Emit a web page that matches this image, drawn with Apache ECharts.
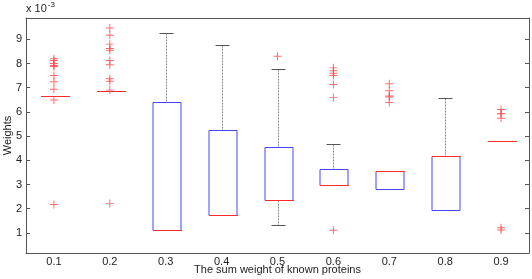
<!DOCTYPE html>
<html>
<head>
<meta charset="utf-8">
<script src="https://cdn.jsdelivr.net/npm/echarts@6/dist/echarts.min.js"></script>
<style>
  html, body { margin: 0; padding: 0; background: #fff; }
  #chart { width: 532px; height: 279px; }
</style>
</head>
<body>
<div id="chart"></div>
<script>
// box statistics, values in units of 1e-3
const categories = ["0.1", "0.2", "0.3", "0.4", "0.5", "0.6", "0.7", "0.8", "0.9"];
const yTicks = [1, 2, 3, 4, 5, 6, 7, 8, 9];
const lowerWhisker = [6.65, 6.87, 1.12, 1.72, 1.32, 2.96, 2.82, 1.94, 4.80];
const q1 = [6.65, 6.87, 1.12, 1.72, 2.35, 2.96, 2.82, 1.94, 4.80];
const median = [6.65, 6.87, 1.12, 1.72, 2.35, 2.96, 3.56, 4.19, 4.80];
const q3 = [6.65, 6.87, 6.42, 5.26, 4.54, 3.65, 3.56, 4.19, 4.80];
const upperWhisker = [6.65, 6.87, 9.25, 8.78, 7.76, 4.68, 3.56, 6.59, 4.80];
const outliers = [
  [8.2, 8.12, 8.0, 7.92, 7.88, 7.5, 7.25, 6.94, 6.49, 2.17],
  [9.47, 9.17, 8.8, 8.62, 8.55, 8.12, 7.95, 7.37, 7.27, 6.9, 2.22],
  [],
  [],
  [8.3],
  [7.82, 7.7, 7.6, 7.5, 7.13, 6.6, 1.11],
  [7.16, 6.87, 6.66, 6.62, 6.39],
  [],
  [6.1, 5.94, 5.92, 5.74, 1.21, 1.12]
];

const boxRows = categories.map((c, i) => [i, lowerWhisker[i], q1[i], median[i], q3[i], upperWhisker[i]]);
const outlierPoints = [];
outliers.forEach((vals, i) => vals.forEach(v => outlierPoints.push([i, v])));

const font = "Liberation Sans";
const axisColor = "#555";
const crisp = v => Math.round(v) + 0.5;

function renderBox(params, api) {
  const x = api.value(0);
  const pLo = api.coord([x, api.value(1)]);
  const pQ1 = api.coord([x, api.value(2)]);
  const pMed = api.coord([x, api.value(3)]);
  const pQ3 = api.coord([x, api.value(4)]);
  const pHi = api.coord([x, api.value(5)]);
  const band = api.size([1, 0])[0];
  const cx = crisp(pMed[0]);
  const half = band * 0.25;
  const capHalf = band * 0.125;
  const children = [];
  const whiskerStyle = { stroke: "#888", lineWidth: 1, lineDash: [2, 1] };
  const capStyle = { stroke: "#555", lineWidth: 1, lineDash: null };

  // whiskers and caps only where they stick out of the box
  if (api.value(5) > api.value(4)) {
    children.push({ type: "line", shape: { x1: cx, y1: crisp(pHi[1]), x2: cx, y2: crisp(pQ3[1]) }, style: whiskerStyle });
    children.push({ type: "line", shape: { x1: cx - capHalf, y1: crisp(pHi[1]), x2: cx + capHalf, y2: crisp(pHi[1]) }, style: capStyle });
  }
  if (api.value(1) < api.value(2)) {
    children.push({ type: "line", shape: { x1: cx, y1: crisp(pQ1[1]), x2: cx, y2: crisp(pLo[1]) }, style: whiskerStyle });
    children.push({ type: "line", shape: { x1: cx - capHalf, y1: crisp(pLo[1]), x2: cx + capHalf, y2: crisp(pLo[1]) }, style: capStyle });
  }

  const left = Math.round(cx - half);
  const width = Math.round(half * 2);
  const top = crisp(pQ3[1]);
  const bottom = crisp(pQ1[1]);
  if (bottom > top) {
    children.push({
      type: "rect",
      shape: { x: left, y: top, width: width, height: bottom - top },
      style: { fill: "none", stroke: "#4444ff", lineWidth: 1, lineDash: null }
    });
  }
  // median as a 1px filled bar
  children.push({
    type: "rect",
    shape: { x: left, y: Math.round(pMed[1]), width: width + 1, height: 1 },
    style: { fill: "#ff2a2a", stroke: null }
  });
  return { type: "group", children: children };
}

const chart = echarts.init(document.getElementById("chart"));
chart.setOption({
  animation: false,
  backgroundColor: "#fff",
  grid: { left: 26, right: 3, top: 18, bottom: 26, containLabel: false, outerBoundsMode: "none" },
  graphic: [{
    type: "text",
    left: 26,
    top: 1,
    style: {
      text: "x 10{sup|-3}",
      fontFamily: font,
      fontSize: 11,
      fill: "#222",
      rich: { sup: { fontSize: 8, fontFamily: font, fill: "#222", verticalAlign: "top", padding: [0, 0, 7, 1] } }
    }
  }],
  xAxis: [{
    type: "category",
    data: categories,
    position: "bottom",
    name: "The sum weight of known proteins",
    nameLocation: "middle",
    nameGap: 11,
    nameMoveOverlap: false,
    nameTextStyle: { fontFamily: font, fontSize: 11, color: "#222" },
    axisLine: { lineStyle: { color: axisColor } },
    axisTick: { inside: true, alignWithLabel: true, length: 4, lineStyle: { color: axisColor } },
    axisLabel: { fontFamily: font, fontSize: 11, color: "#222", margin: 3 },
    splitLine: { show: false }
  }, {
    type: "category",
    data: categories,
    position: "top",
    axisLine: { lineStyle: { color: axisColor } },
    axisTick: { inside: true, alignWithLabel: true, length: 4, lineStyle: { color: axisColor } },
    axisLabel: { show: false },
    splitLine: { show: false }
  }],
  yAxis: [{
    type: "value",
    min: 0.17,
    max: 9.88,
    position: "left",
    name: "Weights",
    nameLocation: "middle",
    nameGap: 13,
    nameMoveOverlap: false,
    nameTextStyle: { fontFamily: font, fontSize: 11, color: "#222" },
    axisLine: { show: true, lineStyle: { color: axisColor } },
    axisTick: { show: true, inside: true, length: 4, customValues: yTicks, lineStyle: { color: axisColor } },
    axisLabel: { fontFamily: font, fontSize: 11, color: "#222", margin: 4, customValues: yTicks },
    splitLine: { show: false }
  }, {
    type: "value",
    min: 0.17,
    max: 9.88,
    position: "right",
    axisLine: { show: true, lineStyle: { color: axisColor } },
    axisTick: { show: true, inside: true, length: 4, customValues: yTicks, lineStyle: { color: axisColor } },
    axisLabel: { show: false, customValues: yTicks },
    splitLine: { show: false }
  }],
  series: [{
    type: "custom",
    xAxisIndex: 0,
    yAxisIndex: 0,
    data: boxRows,
    renderItem: renderBox,
    encode: { x: 0, y: [1, 2, 3, 4, 5] },
    z: 2
  }, {
    type: "scatter",
    xAxisIndex: 0,
    yAxisIndex: 0,
    data: outlierPoints,
    symbol: "path://M0,4.4H10V5.6H0ZM4.4,0H5.6V10H4.4Z",
    symbolSize: 8,
    itemStyle: { color: "#ff4545" },
    z: 3
  }]
});
</script>
</body>
</html>
